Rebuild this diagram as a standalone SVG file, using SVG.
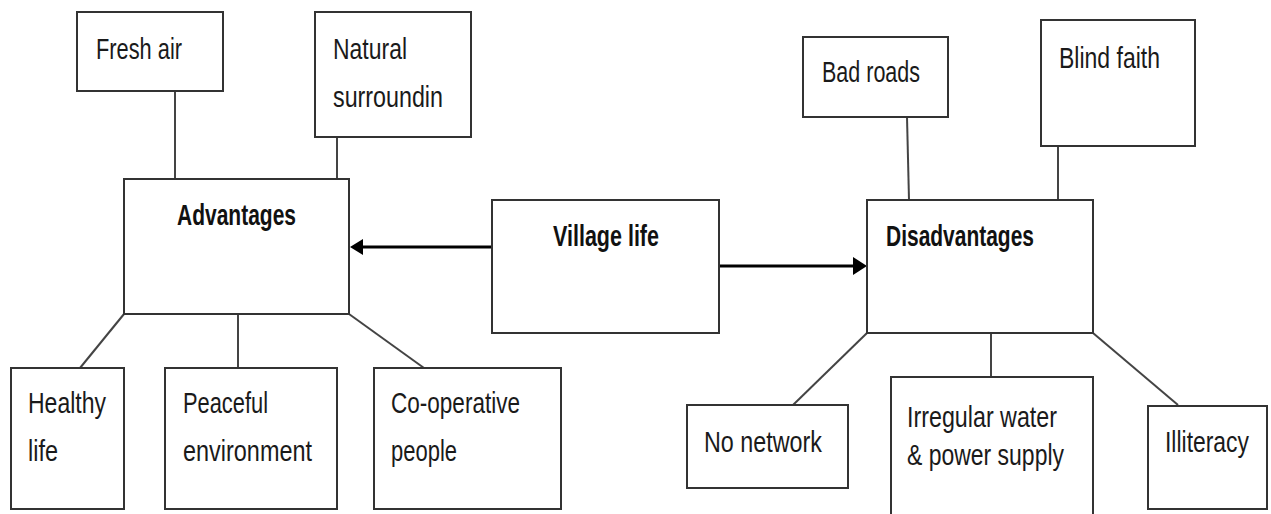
<svg xmlns="http://www.w3.org/2000/svg" width="1271" height="514" viewBox="0 0 1271 514">
<style>
  .box { fill: #ffffff; stroke: #333333; stroke-width: 2; }
  .t { font-family: "Liberation Sans", Arial, sans-serif; font-size: 30px; fill: #1a1a1a; }
  .b { font-family: "Liberation Sans", Arial, sans-serif; font-size: 29px; font-weight: bold; fill: #111111; }
  .c { stroke: #444444; stroke-width: 2; fill: none; }
  .a { stroke: #000000; stroke-width: 3; fill: none; }
</style>
<rect width="1271" height="514" fill="#ffffff"/>
<g id="connectors">
  <line class="c" x1="175" y1="91" x2="175" y2="179"/>
  <line class="c" x1="337" y1="137" x2="337" y2="179"/>
  <line class="c" x1="124" y1="314" x2="80" y2="368"/>
  <line class="c" x1="238" y1="314" x2="238" y2="368"/>
  <line class="c" x1="349" y1="314" x2="424" y2="368"/>
  <line class="c" x1="907" y1="117" x2="909" y2="200"/>
  <line class="c" x1="1058" y1="146" x2="1058" y2="200"/>
  <line class="c" x1="867" y1="333" x2="793" y2="405"/>
  <line class="c" x1="991" y1="333" x2="991" y2="377"/>
  <line class="c" x1="1093" y1="333" x2="1178" y2="405"/>
  <line class="a" x1="492" y1="247" x2="360" y2="247"/>
  <polygon points="350,247 363,239 363,255" fill="#000"/>
  <line class="a" x1="718" y1="266" x2="856" y2="266"/>
  <polygon points="867,266 853,257 853,275" fill="#000"/>
</g>
<g id="fresh-air">
  <rect class="box" x="77" y="12" width="146" height="79"/>
  <text class="t" x="96" y="59" textLength="86" lengthAdjust="spacingAndGlyphs">Fresh air</text>
</g>
<g id="natural">
  <rect class="box" x="315" y="12" width="156" height="125"/>
  <text class="t" x="333" y="59" textLength="74" lengthAdjust="spacingAndGlyphs">Natural</text>
  <text class="t" x="333" y="107" textLength="110" lengthAdjust="spacingAndGlyphs">surroundin</text>
</g>
<g id="advantages">
  <rect class="box" x="124" y="179" width="225" height="135"/>
  <text class="b" x="177" y="225" textLength="119" lengthAdjust="spacingAndGlyphs">Advantages</text>
</g>
<g id="village-life">
  <rect class="box" x="492" y="200" width="227" height="133"/>
  <text class="b" x="553" y="246" textLength="106" lengthAdjust="spacingAndGlyphs">Village life</text>
</g>
<g id="disadvantages">
  <rect class="box" x="867" y="200" width="226" height="133"/>
  <text class="b" x="886" y="246" textLength="148" lengthAdjust="spacingAndGlyphs">Disadvantages</text>
</g>
<g id="bad-roads">
  <rect class="box" x="803" y="37" width="145" height="80"/>
  <text class="t" x="822" y="82" textLength="98" lengthAdjust="spacingAndGlyphs">Bad roads</text>
</g>
<g id="blind-faith">
  <rect class="box" x="1041" y="20" width="154" height="126"/>
  <text class="t" x="1059" y="68" textLength="101" lengthAdjust="spacingAndGlyphs">Blind faith</text>
</g>
<g id="healthy-life">
  <rect class="box" x="11" y="368" width="113" height="141"/>
  <text class="t" x="28" y="413" textLength="78" lengthAdjust="spacingAndGlyphs">Healthy</text>
  <text class="t" x="28" y="461" textLength="30" lengthAdjust="spacingAndGlyphs">life</text>
</g>
<g id="peaceful">
  <rect class="box" x="165" y="368" width="172" height="141"/>
  <text class="t" x="183" y="413" textLength="85" lengthAdjust="spacingAndGlyphs">Peaceful</text>
  <text class="t" x="183" y="461" textLength="129" lengthAdjust="spacingAndGlyphs">environment</text>
</g>
<g id="co-operative">
  <rect class="box" x="374" y="368" width="187" height="141"/>
  <text class="t" x="391" y="413" textLength="129" lengthAdjust="spacingAndGlyphs">Co-operative</text>
  <text class="t" x="391" y="461" textLength="66" lengthAdjust="spacingAndGlyphs">people</text>
</g>
<g id="no-network">
  <rect class="box" x="687" y="405" width="161" height="83"/>
  <text class="t" x="704" y="452" textLength="118" lengthAdjust="spacingAndGlyphs">No network</text>
</g>
<g id="irregular">
  <rect class="box" x="891" y="377" width="202" height="150"/>
  <text class="t" x="907" y="427" textLength="150" lengthAdjust="spacingAndGlyphs">Irregular water</text>
  <text class="t" x="907" y="465" textLength="157" lengthAdjust="spacingAndGlyphs">&amp; power supply</text>
</g>
<g id="illiteracy">
  <rect class="box" x="1148" y="406" width="119" height="103"/>
  <text class="t" x="1165" y="452" textLength="84" lengthAdjust="spacingAndGlyphs">Illiteracy</text>
</g>
</svg>
